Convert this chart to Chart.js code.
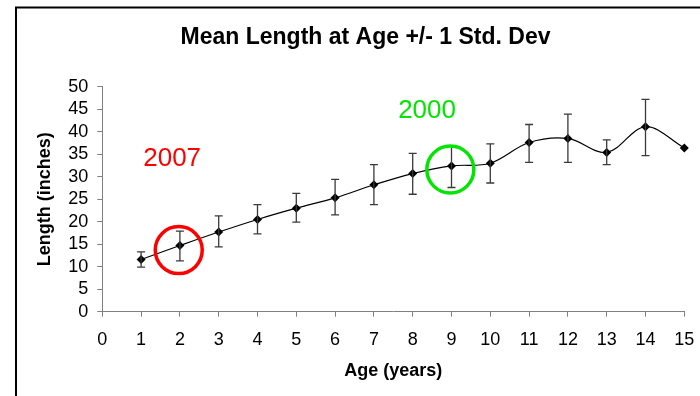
<!DOCTYPE html>
<html><head><meta charset="utf-8">
<script src="https://cdn.jsdelivr.net/npm/chart.js@4.4.0/dist/chart.umd.min.js"></script>
<style>html,body{margin:0;padding:0;background:#fff;overflow:hidden}#wrap{width:700px;height:396px}</style>
</head><body><div id="wrap"><canvas id="c" width="700" height="396"></canvas></div>
<script>
const ages = [1,2,3,4,5,6,7,8,9,10,11,12,13,14,15];
const meanLength = [11.6,14.7,17.7,20.5,23.0,25.3,28.2,30.7,32.4,33.0,37.6,38.5,35.4,41.1,36.4];
const sdUpper = [13.3,17.9,21.3,23.8,26.3,29.4,32.7,35.2,36.8,37.3,41.6,43.9,38.2,47.2,null];
const sdLower = [9.9,11.3,14.4,17.3,19.9,21.5,23.8,26.1,27.6,28.6,33.2,33.2,32.7,34.7,null];
const xTickLabels = ['0','1','2','3','4','5','6','7','8','9','10','11','12','13','14','15'];
const yTickLabels = ['0','5','10','15','20','25','30','35','40','45','50'];
const noteLabels = ['2007','2000'];
const noteColors = ['#ff0000','#00e600'];
const noteTextX = [1.8, 8.37];
const noteTextY = [34.0, 44.6];
const noteCircleX = [1.97, 8.97];
const noteCircleY = [13.7, 31.6];

const FONT = "'Liberation Sans', Arial, sans-serif";

const frameAndTitle = {
  id: 'frameAndTitle',
  beforeDraw(chart) {
    const ctx = chart.ctx;
    ctx.save();
    ctx.fillStyle = '#fff';
    ctx.fillRect(0, 0, chart.width, chart.height);
    ctx.strokeStyle = '#000';
    ctx.lineWidth = 2;
    ctx.beginPath();
    ctx.moveTo(16, 400);
    ctx.lineTo(16, 7.5);
    ctx.lineTo(702, 7.5);
    ctx.stroke();
    ctx.fillStyle = '#000';
    ctx.font = "bold 23px " + FONT;
    ctx.textAlign = 'center';
    ctx.textBaseline = 'middle';
    ctx.fillText('Mean Length at Age +/- 1 Std. Dev', 365.5, 38);
    ctx.restore();
  }
};

const errorBars = {
  id: 'errorBars',
  afterDatasetsDraw(chart) {
    const ctx = chart.ctx;
    const xs = chart.scales.x, ys = chart.scales.y;
    ctx.save();
    ctx.strokeStyle = '#3a3a3a';
    ctx.lineWidth = 1.3;
    for (let i = 0; i < ages.length; i++) {
      if (sdUpper[i] == null) continue;
      const px = xs.getPixelForValue(ages[i]);
      const pt = ys.getPixelForValue(sdUpper[i]);
      const pb = ys.getPixelForValue(sdLower[i]);
      ctx.beginPath();
      ctx.moveTo(px, pt); ctx.lineTo(px, pb);
      ctx.moveTo(px - 4, pt); ctx.lineTo(px + 4, pt);
      ctx.moveTo(px - 4, pb); ctx.lineTo(px + 4, pb);
      ctx.stroke();
    }
    ctx.restore();
  }
};

const notes = {
  id: 'notes',
  afterDraw(chart) {
    const ctx = chart.ctx;
    const xs = chart.scales.x, ys = chart.scales.y;
    ctx.save();
    for (let i = 0; i < noteLabels.length; i++) {
      ctx.fillStyle = noteColors[i];
      ctx.font = "26px " + FONT;
      ctx.textAlign = 'center';
      ctx.textBaseline = 'middle';
      ctx.fillText(noteLabels[i], xs.getPixelForValue(noteTextX[i]), ys.getPixelForValue(noteTextY[i]));
      ctx.strokeStyle = noteColors[i];
      ctx.lineWidth = 3.5;
      ctx.beginPath();
      ctx.arc(xs.getPixelForValue(noteCircleX[i]), ys.getPixelForValue(noteCircleY[i]), 23.5, 0, Math.PI * 2);
      ctx.stroke();
    }
    ctx.restore();
  }
};

new Chart(document.getElementById('c'), {
  type: 'line',
  data: {
    datasets: [{
      data: ages.map((a, i) => ({x: a, y: meanLength[i]})),
      borderColor: '#000',
      borderWidth: 1.2,
      backgroundColor: '#000',
      pointStyle: 'rectRot',
      pointRadius: 4.5,
      pointBorderWidth: 0,
      tension: 0.35,
      fill: false,
      clip: false
    }]
  },
  options: {
    responsive: false,
    devicePixelRatio: 1,
    animation: false,
    layout: {padding: {top: 86.7, right: 15.7, bottom: 0, left: 0}},
    plugins: {legend: {display: false}, tooltip: {enabled: false}, title: {display: false}},
    scales: {
      x: {
        type: 'linear', min: 0, max: 15,
        afterFit(s) { s.height = 84.3; s.paddingLeft = 0; s.paddingRight = 0; },
        afterBuildTicks(s) { s.ticks = xTickLabels.map(v => ({value: Number(v)})); },
        grid: {drawOnChartArea: false, drawTicks: true, tickLength: 5, color: '#808080', lineWidth: 1},
        border: {color: '#808080', width: 1},
        ticks: {color: '#000', font: {family: FONT, size: 18}, padding: 13, maxRotation: 0, autoSkip: false,
          callback: (v, i) => xTickLabels[i]},
        title: {display: true, text: 'Age (years)', color: '#000', font: {family: FONT, size: 18, weight: 'bold'}, padding: {top: 0, bottom: 14.5}}
      },
      y: {
        type: 'linear', min: 0, max: 50,
        afterFit(s) { s.width = 102.3; s.paddingTop = 0; s.paddingBottom = 0; },
        afterBuildTicks(s) { s.ticks = yTickLabels.map(v => ({value: Number(v)})); },
        grid: {drawOnChartArea: false, drawTicks: true, tickLength: 5, color: '#808080', lineWidth: 1},
        border: {color: '#808080', width: 1},
        ticks: {color: '#000', font: {family: FONT, size: 18}, padding: 9, autoSkip: false,
          callback: (v, i) => yTickLabels[i]},
        title: {display: true, text: 'Length (inches)', color: '#000', font: {family: FONT, size: 18, weight: 'bold'}, padding: {top: 34.2, bottom: 0}}
      }
    }
  },
  plugins: [frameAndTitle, errorBars, notes]
});
</script></body></html>
